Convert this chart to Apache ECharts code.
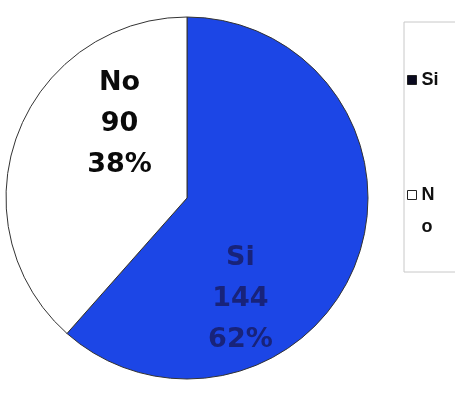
<!DOCTYPE html>
<html>
<head>
<meta charset="utf-8">
<script src="https://cdn.jsdelivr.net/npm/echarts@6/dist/echarts.min.js"></script>
<style>
html,body{margin:0;padding:0;background:#fff;}
#chart{width:455px;height:415px;}
</style>
</head>
<body>
<div id="chart"></div>
<script>
// Data
const categories = ['Si', 'No'];
const values = [144, 90];

// Styles (not data)
const sliceColors = ['#1c46e6', '#ffffff'];
const labelColors = ['#18237a', '#0a0a0a'];
const legendIconColors = ['#0a0a20', '#ffffff'];
const legendLeadingBreak = { Si: '', No: '\n' };
const labelShift = [[-34, 68], [20, -41]];

const chart = echarts.init(document.getElementById('chart'));
chart.setOption({
  backgroundColor: '#ffffff',
  animation: false,
  legend: {
    orient: 'vertical',
    left: 404,
    top: 22,
    padding: [42, 30, 29, 3],
    itemGap: 51,
    itemWidth: 9,
    itemHeight: 9,
    borderColor: '#c8c8c8',
    borderWidth: 1,
    formatter: function (name) { return legendLeadingBreak[name] + name; },
    textStyle: {
      fontFamily: 'Liberation Sans, Arial, sans-serif',
      fontSize: 18,
      fontWeight: 'bold',
      color: '#111',
      width: 20,
      overflow: 'break',
      lineHeight: 32
    },
    data: categories.map((c, i) => ({
      name: c,
      icon: 'rect',
      itemStyle: { color: legendIconColors[i], borderColor: '#222', borderWidth: 1 }
    }))
  },
  series: [{
    type: 'pie',
    center: [187, 198],
    radius: 181,
    startAngle: 90,
    clockwise: true,
    percentPrecision: 0,
    legendHoverLink: false,
    itemStyle: { borderColor: '#333', borderWidth: 1 },
    label: {
      show: true,
      position: 'inside',
      formatter: '{b}\n{c}\n{d}%',
      fontFamily: 'DejaVu Sans, sans-serif',
      fontSize: 27,
      fontWeight: 'bold',
      lineHeight: 41,
      align: 'center'
    },
    labelLayout: function (params) {
      const s = labelShift[params.dataIndex];
      return { dx: s[0], dy: s[1] };
    },
    labelLine: { show: false },
    data: categories.map((c, i) => ({
      name: c,
      value: values[i],
      itemStyle: { color: sliceColors[i] },
      label: { color: labelColors[i] }
    }))
  }]
});
</script>
</body>
</html>
